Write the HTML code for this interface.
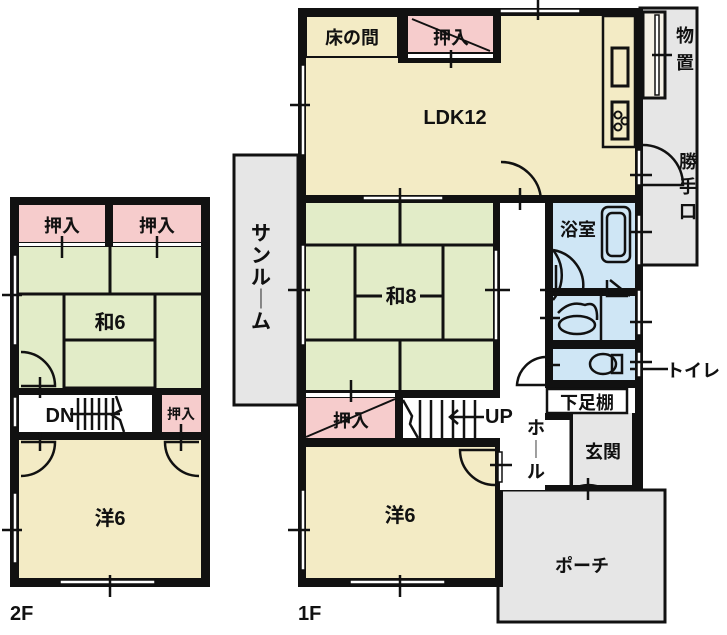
<!DOCTYPE html>
<html><head><meta charset="utf-8"><style>
html,body{margin:0;padding:0;background:#fff;}
svg{display:block;}
text{font-family:"Liberation Sans","Noto Sans CJK JP",sans-serif;fill:#111;font-weight:bold;}
</style></head><body>
<svg width="727" height="635" viewBox="0 0 727 635" xmlns="http://www.w3.org/2000/svg">
<!-- ===== 2F ===== -->
<rect x="10" y="197" width="200" height="390" fill="#111"/>
<rect x="19" y="205" width="86" height="37" fill="#f6cccc"/>
<rect x="113" y="205" width="88" height="37" fill="#f6cccc"/>
<rect x="19" y="247" width="182" height="141" fill="#e2ecc8"/>
<g stroke="#111" stroke-width="3" fill="none">
<line x1="19" y1="294" x2="201" y2="294"/>
<line x1="110" y1="247" x2="110" y2="294"/>
<rect x="64" y="294" width="91" height="94"/>
<line x1="64" y1="340" x2="155" y2="340"/>
</g>
<rect x="19" y="243" width="86" height="3" fill="#fff"/>
<rect x="113" y="243" width="88" height="3" fill="#fff"/>
<rect x="19" y="395" width="133" height="37" fill="#fff"/>
<rect x="162" y="395" width="39" height="37" fill="#f6cccc"/>
<rect x="19" y="440" width="182" height="138" fill="#f3ebc5"/>
<g stroke="#111" stroke-width="2.5">
<line x1="78" y1="398" x2="78" y2="430"/><line x1="85" y1="398" x2="85" y2="430"/><line x1="92" y1="398" x2="92" y2="430"/><line x1="99" y1="398" x2="99" y2="430"/><line x1="106" y1="398" x2="106" y2="430"/><line x1="113" y1="398" x2="113" y2="430"/>
<line x1="70" y1="414" x2="120" y2="414"/>
<polyline points="116,396 121,410 112,415 120,420 124,432" fill="none"/>
</g>
<g fill="#fff" stroke="#111" stroke-width="1.5">
<rect x="13" y="255" width="4" height="90"/><rect x="13" y="493" width="4" height="70"/>
<rect x="60" y="580" width="95" height="4"/><rect x="13" y="397" width="4" height="30"/>
</g>
<g stroke="#111" stroke-width="2.5" fill="none">
<line x1="2" y1="295" x2="22" y2="295"/><line x1="2" y1="530" x2="22" y2="530"/>
<line x1="110" y1="575" x2="110" y2="597"/>
<line x1="62" y1="236" x2="62" y2="258"/><line x1="157" y1="236" x2="157" y2="258"/>
<path d="M21 352 A34 34 0 0 1 55 386 L21 386"/>
<path d="M21 476 A34 34 0 0 0 55 442 L21 442"/>
<path d="M199 476 A34 34 0 0 1 165 442 L199 442"/>
<line x1="40" y1="377" x2="40" y2="398"/><line x1="40" y1="432" x2="40" y2="451"/>
<line x1="181" y1="424" x2="181" y2="451"/>
</g>
<text x="62" y="232" font-size="18" text-anchor="middle">押入</text>
<text x="157" y="232" font-size="18" text-anchor="middle">押入</text>
<text x="110" y="329" font-size="20" text-anchor="middle">和6</text>
<text x="60" y="422" font-size="20" text-anchor="middle">DN</text>
<text x="181" y="419" font-size="14" text-anchor="middle">押入</text>
<text x="110" y="525" font-size="20" text-anchor="middle">洋6</text>
<text x="10" y="620" font-size="20">2F</text>

<!-- ===== 1F ===== -->
<rect x="234" y="155" width="64" height="250" fill="#e6e6e6" stroke="#111" stroke-width="3"/>
<text font-size="20" text-anchor="middle"><tspan x="261" y="240">サ</tspan><tspan x="261" y="262">ン</tspan><tspan x="261" y="284">ル</tspan><tspan x="261" y="306">｜</tspan><tspan x="261" y="328">ム</tspan></text>
<rect x="640" y="8" width="57" height="257" fill="#e6e6e6" stroke="#111" stroke-width="3"/>
<rect x="643" y="12" width="22" height="86" fill="#f5f1e6" stroke="#111" stroke-width="3"/>
<text font-size="18" text-anchor="middle"><tspan x="685" y="42">物</tspan><tspan x="685" y="69">置</tspan><tspan x="688" y="168">勝</tspan><tspan x="688" y="193">手</tspan><tspan x="688" y="218">口</tspan></text>
<rect x="498" y="490" width="167" height="132" fill="#e6e6e6" stroke="#111" stroke-width="3"/>
<text x="582" y="572" font-size="18" text-anchor="middle">ポーチ</text>
<rect x="298" y="8" width="345" height="187" fill="#111"/>
<rect x="298" y="195" width="345" height="295" fill="#111"/>
<rect x="298" y="440" width="205" height="147" fill="#111"/>
<rect x="306" y="16" width="329" height="179" fill="#f3ebc5"/>
<rect x="398" y="8" width="103" height="55" fill="#111"/>
<rect x="408" y="16" width="85" height="36" fill="#f6cccc"/>
<rect x="408" y="54" width="85" height="4" fill="#fff"/>
<line x1="412" y1="19" x2="490" y2="51" stroke="#111" stroke-width="2"/>
<rect x="306" y="16" width="92" height="41" fill="#f3ebc5" stroke="#111" stroke-width="2"/>
<rect x="603" y="16" width="32" height="131" fill="#f3ebc5" stroke="#111" stroke-width="2.5"/>
<rect x="612" y="48" width="16" height="38" fill="#f3ebc5" stroke="#111" stroke-width="3"/>
<rect x="612" y="102" width="16" height="37" fill="#f3ebc5" stroke="#111" stroke-width="3"/>
<circle cx="618" cy="115" r="3.5" fill="none" stroke="#111" stroke-width="2"/><circle cx="618" cy="127" r="3.5" fill="none" stroke="#111" stroke-width="2"/><circle cx="625" cy="121" r="3.5" fill="none" stroke="#111" stroke-width="2"/>
<text x="352" y="44" font-size="18" text-anchor="middle">床の間</text>
<text x="451" y="44" font-size="18" text-anchor="middle">押入</text>
<text x="455" y="124" font-size="20" text-anchor="middle">LDK12</text>
<rect x="306" y="203" width="187" height="187" fill="#e2ecc8"/>
<g stroke="#111" stroke-width="3" fill="none">
<line x1="306" y1="245" x2="493" y2="245"/><line x1="306" y1="340" x2="493" y2="340"/>
<line x1="400" y1="203" x2="400" y2="245"/><line x1="400" y1="340" x2="400" y2="390"/>
<line x1="355" y1="245" x2="355" y2="340"/><line x1="443" y1="245" x2="443" y2="340"/>
<line x1="355" y1="296" x2="443" y2="296"/>
</g>
<rect x="382" y="284" width="38" height="24" fill="#e2ecc8"/>
<text x="401" y="303" font-size="20" text-anchor="middle">和8</text>
<rect x="306" y="398" width="89" height="40" fill="#f6cccc"/>
<rect x="306" y="393" width="89" height="4" fill="#fff"/>
<line x1="306" y1="437" x2="395" y2="399" stroke="#111" stroke-width="2"/>
<text x="351" y="427" font-size="18" text-anchor="middle">押入</text>
<rect x="403" y="398" width="97" height="40" fill="#fff"/>
<g stroke="#111" stroke-width="2.5" fill="none">
<line x1="420" y1="400" x2="420" y2="438"/><line x1="431" y1="400" x2="431" y2="438"/><line x1="442" y1="400" x2="442" y2="438"/><line x1="453" y1="400" x2="453" y2="438"/><line x1="464" y1="400" x2="464" y2="438"/><line x1="475" y1="400" x2="475" y2="438"/>
<polyline points="403,400 412,416 410,424 418,438"/>
<line x1="450" y1="417" x2="485" y2="417"/><polyline points="458,410 450,417 458,424"/>
</g>
<rect x="306" y="447" width="189" height="131" fill="#f3ebc5"/>
<text x="400" y="522" font-size="20" text-anchor="middle">洋6</text>
<rect x="500" y="203" width="45" height="287" fill="#fff"/>
<rect x="503" y="420" width="67" height="65" fill="#fff"/>
<rect x="484" y="402" width="30" height="24" fill="#fff"/>
<text x="485" y="423" font-size="20">UP</text>
<text font-size="18" text-anchor="middle"><tspan x="536" y="434">ホ</tspan><tspan x="536" y="456">｜</tspan><tspan x="536" y="478">ル</tspan></text>
<rect x="553" y="203" width="82" height="85" fill="#cfe6f5"/>
<rect x="553" y="296" width="82" height="44" fill="#cfe6f5"/>
<rect x="553" y="349" width="82" height="31" fill="#cfe6f5"/>
<rect x="545" y="388" width="90" height="25" fill="#fff"/>
<rect x="573" y="413" width="59" height="72" fill="#e6e6e6"/>
<line x1="571" y1="412" x2="571" y2="485" stroke="#111" stroke-width="3"/>
<g stroke="#111" stroke-width="2.5" fill="none">
<rect x="602" y="207" width="28" height="55" rx="6"/><rect x="607" y="213" width="18" height="43" rx="5"/>
<path d="M553 250 A40 40 0 0 1 553 300"/>
<path d="M553 250 A36 36 0 0 1 583 290"/>
<ellipse cx="577" cy="325" rx="18" ry="9"/>
<path d="M558 313 Q570 300 585 305 Q598 300 597 320"/>
<line x1="601" y1="290" x2="601" y2="340"/>
<polyline points="607,280 607,296 628,296"/>
<line x1="610" y1="280" x2="630" y2="296"/>
<ellipse cx="603" cy="364" rx="13" ry="10"/><rect x="612" y="355" width="10" height="18"/>
<path d="M545 357 A30 30 0 0 0 517 385 L545 385"/>
<path d="M501 162 A40 40 0 0 1 541 200 L501 200"/>
<path d="M643 145 A40 40 0 0 1 683 185 L643 185"/>
<path d="M495 485 A35 35 0 0 1 460 450 L495 450"/>
<path d="M572 490 A30 30 0 0 1 605 490"/>
</g>
<rect x="547" y="389" width="80" height="24" fill="#fff" stroke="#111" stroke-width="2.5"/>
<text x="587" y="409" font-size="18" text-anchor="middle">下足棚</text>
<text x="578" y="236" font-size="18" text-anchor="middle">浴室</text>
<text x="603" y="458" font-size="18" text-anchor="middle">玄関</text>
<text x="666" y="377" font-size="18">トイレ</text>
<line x1="630" y1="369" x2="668" y2="369" stroke="#111" stroke-width="2.5"/>
<g fill="#fff" stroke="#111" stroke-width="1.5">
<rect x="301" y="65" width="4" height="90"/><rect x="301" y="245" width="4" height="100"/>
<rect x="301" y="490" width="4" height="80"/><rect x="350" y="580" width="95" height="4"/>
<rect x="500" y="9" width="80" height="4"/><rect x="363" y="196" width="80" height="4"/>
<rect x="494" y="250" width="4" height="90"/><rect x="637" y="150" width="4" height="35"/>
<rect x="637" y="215" width="4" height="50"/><rect x="637" y="290" width="4" height="45"/>
<rect x="637" y="352" width="4" height="25"/><rect x="655" y="15" width="4" height="80"/>
<rect x="498" y="452" width="4" height="30"/>
</g>
<g stroke="#111" stroke-width="2.5">
<line x1="290" y1="105" x2="310" y2="105"/><line x1="290" y1="155" x2="300" y2="155"/>
<line x1="288" y1="290" x2="310" y2="290"/><line x1="288" y1="530" x2="310" y2="530"/>
<line x1="400" y1="575" x2="400" y2="597"/><line x1="538" y1="0" x2="538" y2="20"/>
<line x1="400" y1="188" x2="400" y2="210"/><line x1="451" y1="50" x2="451" y2="68"/>
<line x1="485" y1="290" x2="510" y2="290"/><line x1="520" y1="188" x2="520" y2="210"/>
<line x1="630" y1="175" x2="652" y2="175"/><line x1="630" y1="232" x2="652" y2="232"/>
<line x1="630" y1="322" x2="652" y2="322"/><line x1="630" y1="362" x2="652" y2="362"/>
<line x1="652" y1="55" x2="672" y2="55"/><line x1="540" y1="290" x2="560" y2="290"/>
<line x1="556" y1="265" x2="556" y2="290"/><line x1="540" y1="318" x2="560" y2="318"/>
<line x1="545" y1="365" x2="560" y2="365"/><line x1="351" y1="380" x2="351" y2="402"/>
<line x1="490" y1="465" x2="512" y2="465"/><line x1="588" y1="478" x2="588" y2="500"/>
</g>
<text x="298" y="620" font-size="20">1F</text>
</svg>
</body></html>
